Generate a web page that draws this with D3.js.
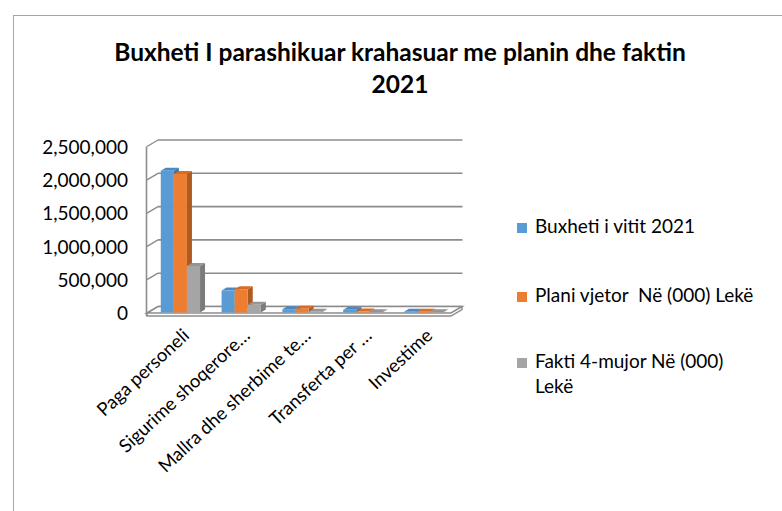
<!DOCTYPE html>
<html>
<head>
<meta charset="utf-8">
<script src="https://cdn.jsdelivr.net/npm/d3@7"></script>
<style>
  body { margin: 0; background: #fff; }
  svg { display: block; font-family: Lato, "Open Sans", sans-serif; }
</style>
</head>
<body>
<svg id="chart" width="782" height="511"></svg>
<script>
// values in (000) Leke
const categories = ["Paga personeli", "Sigurime shoqerore…", "Mallra dhe sherbime te…", "Transferta per …", "Investime"];
const buxheti = [2130000, 330000, 50000, 40000, 10000];
const plani = [2080000, 350000, 55000, 15000, 10000];
const fakti = [700000, 115000, 10000, 5000, 4000];
const seriesNames = ["Buxheti i vitit 2021", "Plani vjetor  Në (000) Lekë", "Fakti 4-mujor Në (000) Lekë"];
const yTicks = [0, 500000, 1000000, 1500000, 2000000, 2500000];

const colors = ["#5b9bd5", "#ed7d31", "#a5a5a5"];
const sideColors = ["#41719c", "#ae5a21", "#7b7b7b"];
const topColors = ["#4a8ac4", "#d96c22", "#959595"];

const svg = d3.select("#chart");

// chart frame
svg.append("rect")
    .attr("x", 13.5).attr("y", 15.5)
    .attr("width", 800).attr("height", 600)
    .attr("fill", "#fff").attr("stroke", "#a6a6a6");

// title
const title = svg.append("text")
    .attr("x", 400).attr("text-anchor", "middle")
    .attr("font-weight", "bold").attr("font-size", 24.5).attr("fill", "#000");
title.append("tspan").attr("x", 400).attr("y", 61)
    .text("Buxheti I parashikuar krahasuar me planin dhe faktin");
title.append("tspan").attr("x", 400).attr("y", 93).text("2021");

// plot geometry (front plane + depth offset of the walls)
const left = 147, right = 451, DX = 11, DY = -6.5;
const y = d3.scaleLinear().domain([0, 2500000]).range([313, 146.5]);
const x = d3.scaleBand().domain(categories).range([left, right])
    .paddingInner(0.354).paddingOuter(0.177);
const xs = d3.scaleBand().domain(d3.range(3)).range([0, x.bandwidth()]);

const gridColor = "#8c8c8c";
const walls = svg.append("g").attr("fill", "none").attr("stroke", gridColor);

// back wall gridlines
walls.selectAll(".grid").data(yTicks).join("line")
    .attr("x1", left + DX).attr("x2", right + DX + 0.5)
    .attr("y1", d => y(d) + DY).attr("y2", d => y(d) + DY)
    .attr("stroke-width", 1.6);

// left side wall
walls.append("line")
    .attr("x1", left - 0.5).attr("x2", left - 0.5)
    .attr("y1", y(2500000)).attr("y2", y(0) + 3)
    .attr("stroke-width", 1.6);
walls.selectAll(".side").data(yTicks).join("line")
    .attr("x1", left).attr("x2", left + DX)
    .attr("y1", d => y(d)).attr("y2", d => y(d) + DY)
    .attr("stroke-width", 1.4);

// floor
walls.append("path")
    .attr("d", `M${left},${y(0)}L${left + DX},${y(0) + DY}L${right + DX},${y(0) + DY}L${right},${y(0)}Z`)
    .attr("fill", "#fff").attr("stroke-width", 1.6);
walls.append("path")
    .attr("d", `M${left},${y(0)}L${left},${y(0) + 3}L${right},${y(0) + 3}L${right + DX},${y(0) + DY + 3}L${right + DX},${y(0) + DY}`)
    .attr("stroke-width", 1.4);

// y tick labels
svg.append("g").selectAll("text").data(yTicks).join("text")
    .attr("x", 128).attr("y", d => y(d) + 2.5)
    .attr("text-anchor", "end").attr("dominant-baseline", "middle")
    .attr("font-size", 19).attr("fill", "#000")
    .text(d => d3.format(",")(d));

// 3D bars
const series = [buxheti, plani, fakti];
const bx = 3, by = -0.5, ddx = 5, ddy = -3;
const bars = [];
categories.forEach((c, i) => {
  series.forEach((s, k) => {
    bars.push({ c, k, v: s[i] });
  });
});
const barG = svg.append("g").selectAll("g").data(bars).join("g")
    .attr("transform", d => `translate(${x(d.c) + xs(d.k) + bx},${by})`);
barG.each(function (d) {
  const g = d3.select(this);
  const w = xs.bandwidth();
  const yt = y(d.v), yb = y(0);
  g.append("path")
      .attr("d", `M${w},${yt}L${w + ddx},${yt + ddy}L${w + ddx},${yb + ddy}L${w},${yb}Z`)
      .attr("fill", sideColors[d.k]);
  g.append("path")
      .attr("d", `M0,${yt}L${ddx},${yt + ddy}L${w + ddx},${yt + ddy}L${w},${yt}Z`)
      .attr("fill", topColors[d.k]);
  g.append("rect")
      .attr("x", 0).attr("y", yt)
      .attr("width", w).attr("height", yb - yt)
      .attr("fill", colors[d.k]);
});

// category labels
svg.append("g").selectAll("text").data(categories).join("text")
    .attr("transform", d => `translate(${x(d) + x.bandwidth() / 2 + bx + 10},${337}) rotate(-43)`)
    .attr("text-anchor", "end")
    .attr("font-size", 18.5).attr("fill", "#000")
    .text(d => d);

// legend
const legendRows = [[seriesNames[0]], [seriesNames[1]], ["Fakti 4-mujor Në (000)", "Lekë"]];
const legendY = [228, 297, 363];
const legend = svg.append("g").selectAll("g").data(legendRows).join("g")
    .attr("transform", (d, i) => `translate(517,${legendY[i]})`);
legend.append("rect")
    .attr("x", 0).attr("y", -5).attr("width", 10).attr("height", 10)
    .attr("fill", (d, i) => colors[i]);
legend.each(function (d) {
  d3.select(this).selectAll("text").data(d).join("text")
      .attr("x", 18).attr("y", (t, j) => j * 25)
      .attr("dominant-baseline", "middle")
      .attr("font-size", 19).attr("fill", "#000")
      .style("white-space", "pre")
      .text(t => t);
});
</script>
</body>
</html>
